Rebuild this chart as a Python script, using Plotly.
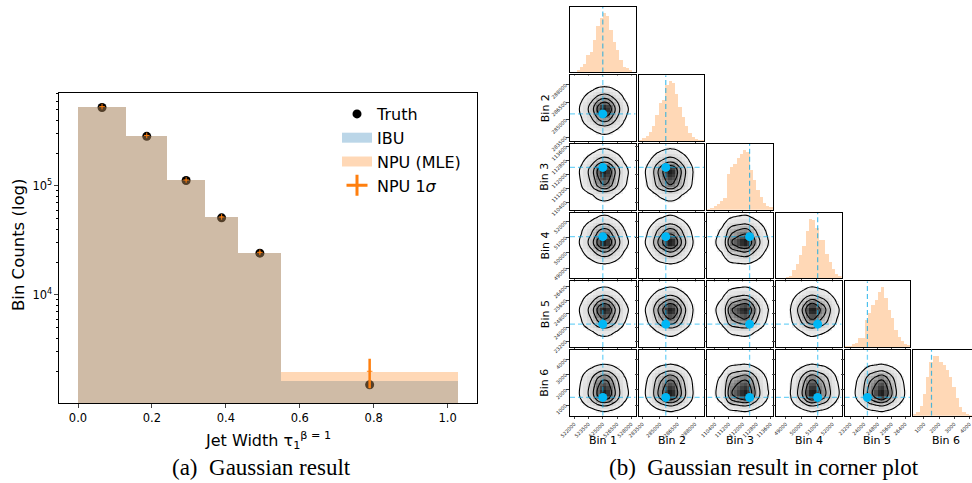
import numpy as np
import plotly.graph_objects as go

# ---------------- data : left panel ----------------
bin_edges = [0.0, 0.13, 0.242, 0.343, 0.434, 0.55, 1.028]
truth_counts = [525000, 285500, 112400, 51050, 24200, 1500]
ibu_counts = [535000, 290000, 113500, 52000, 24600, 1640]
npu_counts = [535000, 291000, 113500, 52000, 24600, 1995]
npu_sigma = [1400, 1200, 700, 450, 400, 605]
left_xticks = [0.0, 0.2, 0.4, 0.6, 0.8, 1.0]
left_yticks = [1e4, 1e5]
left_yticktext = ["10<sup>4</sup>", "10<sup>5</sup>"]

# ---------------- data : corner plot ----------------
bin_names = ["Bin 1", "Bin 2", "Bin 3", "Bin 4", "Bin 5", "Bin 6"]
corner_lo = [521540, 283180, 109960, 48370, 22870, 300]
corner_hi = [528470, 288800, 113750, 52590, 26700, 4620]
ticks_bin1 = [522000, 523500, 525000, 526500, 528000]
ticks_bin2 = [283500, 285000, 286500, 288000]
ticks_bin3 = [110400, 111200, 112000, 112800, 113600]
ticks_bin4 = [49000, 50000, 51000, 52000]
ticks_bin5 = [23200, 24000, 24800, 25600, 26400]
ticks_bin6 = [1000, 2000, 3000, 4000]
hist_bin1 = [0, 2, 5, 9, 15, 30, 35, 55, 78, 92, 100, 95, 72, 52, 38, 22, 9, 8, 5, 1]
hist_bin2 = [2, 4, 8, 15, 24, 43, 63, 68, 93, 100, 96, 79, 57, 40, 24, 13, 6, 3, 2, 1]
hist_bin3 = [1, 3, 6, 10, 14, 20, 60, 72, 77, 87, 93, 100, 96, 67, 50, 33, 22, 11, 6, 5]
hist_bin4 = [0, 1, 2, 3, 5, 15, 25, 40, 55, 80, 100, 98, 85, 64, 64, 42, 28, 16, 8, 5]
hist_bin5 = [1, 2, 4, 6, 14, 15, 45, 56, 70, 78, 92, 100, 82, 62, 48, 28, 17, 9, 5, 3]
hist_bin6 = [3, 6, 17, 37, 65, 90, 100, 100, 90, 85, 76, 65, 48, 29, 15, 6, 3, 2, 1, 0]

ticks_all = [ticks_bin1, ticks_bin2, ticks_bin3, ticks_bin4, ticks_bin5, ticks_bin6]
hists = [hist_bin1, hist_bin2, hist_bin3, hist_bin4, hist_bin5, hist_bin6]

# ---------------- style ----------------
W, H = 972, 483
FONT = "DejaVu Sans"
ORANGE = "#ff7f0e"
IBU_FILL = "rgba(31,119,180,0.3)"
NPU_FILL = "rgba(255,127,14,0.3)"
BLUE_DOT = "#00b7f5"
BLUE_LINE = "rgba(0,175,240,0.55)"
DASH = "5px,3px"


def px_x(p):
    return p / W


def px_y(p):
    return 1 - p / H


def smooth(a):
    # light 1-2-1 smoothing along both axes (like corner's smoothing of the 2D histogram)
    k = np.array([0.25, 0.5, 0.25])
    p = np.pad(a, 1, mode="edge")
    a1 = k[0] * p[:-2, 1:-1] + k[1] * p[1:-1, 1:-1] + k[2] * p[2:, 1:-1]
    p = np.pad(a1, 1, mode="edge")
    return k[0] * p[1:-1, :-2] + k[1] * p[1:-1, 1:-1] + k[2] * p[1:-1, 2:]


fig = go.Figure()
layout = {}

# ---------------- left panel ----------------
edges = np.array(bin_edges)
centers = (edges[:-1] + edges[1:]) / 2
widths = np.diff(edges)

fig.add_trace(go.Scatter(
    x=centers, y=truth_counts, mode="markers", name="Truth",
    marker=dict(color="black", size=9), xaxis="x", yaxis="y", legendrank=1))
fig.add_trace(go.Bar(
    x=centers, y=ibu_counts, width=widths, name="IBU", showlegend=False,
    marker=dict(color=IBU_FILL, line=dict(width=0)), xaxis="x", yaxis="y2"))
fig.add_trace(go.Bar(
    x=centers, y=npu_counts, width=widths, name="NPU (MLE)", showlegend=False,
    marker=dict(color=NPU_FILL, line=dict(width=0)), xaxis="x", yaxis="y2"))
fig.add_trace(go.Scatter(
    x=centers, y=npu_counts, mode="markers", showlegend=False,
    marker=dict(symbol="cross-thin", size=4, line=dict(width=1, color=ORANGE)),
    error_y=dict(type="data", array=npu_sigma, color=ORANGE, thickness=2.5, width=0),
    xaxis="x", yaxis="y2"))
# legend patches (wide rectangles like matplotlib)
fig.add_trace(go.Scatter(
    x=[None], y=[None], mode="lines", name="IBU", line=dict(color=IBU_FILL, width=12),
    xaxis="x", yaxis="y2", legendrank=2))
fig.add_trace(go.Scatter(
    x=[None], y=[None], mode="lines", name="NPU (MLE)", line=dict(color=NPU_FILL, width=12),
    xaxis="x", yaxis="y2", legendrank=3))
fig.add_trace(go.Scatter(
    x=[None], y=[None], mode="markers", name="NPU 1<i>σ</i>",
    marker=dict(symbol="cross-thin", size=15, line=dict(width=3, color=ORANGE)),
    xaxis="x", yaxis="y2", legendrank=4))

minor_vals = [m * 10 ** e for e in (3, 4, 5) for m in range(2, 10)]
ylog_range = [3.006, 5.856]
layout["xaxis"] = dict(
    domain=[px_x(59), px_x(477)], range=[-0.0514, 1.0794], anchor="y",
    tickvals=left_xticks, tickformat=".1f", ticks="outside", ticklen=3.5,
    tickfont=dict(size=11.5, color="black"), showline=True, mirror=True,
    linecolor="black", linewidth=1.1, showgrid=False, zeroline=False)
layout["yaxis"] = dict(
    domain=[px_y(403.3), px_y(92.7)], type="log", range=ylog_range, anchor="x",
    tickvals=left_yticks, ticktext=left_yticktext, ticks="outside", ticklen=3.5,
    tickfont=dict(size=11.5, color="black"), showline=True, mirror=True,
    linecolor="black", linewidth=1.1, showgrid=False, zeroline=False,
    minor=dict(tickvals=minor_vals, ticks="outside", ticklen=2, tickcolor="black"))
layout["yaxis2"] = dict(
    domain=[px_y(403.3), px_y(92.7)], type="log", range=ylog_range,
    anchor="x", overlaying="y", visible=False)

# ---------------- corner plot ----------------
COL0, ROW0, PITCH, SIZE = 570.0, 6.7, 68.65, 65.7
NB = len(hists[0])
gray_scale = [[0, "#ffffff"], [0.055, "#ffffff"], [0.065, "#eeeeee"],
              [0.3, "#d0d0d0"], [0.55, "#a2a2a2"], [0.8, "#606060"], [1, "#1e1e1e"]]

ax = 3
for i in range(6):
    for j in range(i + 1):
        x0 = COL0 + j * PITCH
        x1 = min(x0 + SIZE, W)
        frac = (x1 - x0) / SIZE
        y0 = ROW0 + i * PITCH
        y1 = y0 + SIZE
        xlo, xhi_full = corner_lo[j], corner_hi[j]
        xhi = xlo + (xhi_full - xlo) * frac
        xa, ya = f"x{ax}", f"y{ax}"
        cx = [xlo + (k + 0.5) * (xhi_full - xlo) / NB for k in range(NB)]

        if i == j:
            hmax = max(hists[i])
            fig.add_trace(go.Bar(
                x=cx, y=hists[i], width=(xhi_full - xlo) / NB,
                marker=dict(color=NPU_FILL, line=dict(width=0)),
                showlegend=False, xaxis=xa, yaxis=ya, hoverinfo="skip"))
            fig.add_trace(go.Scatter(
                x=[truth_counts[j], truth_counts[j]], y=[0, 1.1 * hmax], mode="lines",
                line=dict(color="rgba(0,165,230,0.7)", dash=DASH, width=1.2),
                showlegend=False, xaxis=xa, yaxis=ya, hoverinfo="skip"))
            yrange = [0, 1.1 * hmax]
        else:
            cy = [corner_lo[i] + (k + 0.5) * (corner_hi[i] - corner_lo[i]) / NB for k in range(NB)]
            z = np.outer(np.array(hists[i], float), np.array(hists[j], float))
            z = smooth(z)
            z = z / z.max()
            fig.add_trace(go.Heatmap(
                x=cx, y=cy, z=z, colorscale=gray_scale, zmin=0, zmax=1,
                showscale=False, showlegend=False, xaxis=xa, yaxis=ya, hoverinfo="skip"))
            fig.add_trace(go.Contour(
                x=cx, y=cy, z=z, showscale=False, showlegend=False,
                contours=dict(start=0.07, end=0.73, size=0.22, coloring="none"),
                line=dict(color="black", width=1.1, smoothing=1.3),
                xaxis=xa, yaxis=ya, hoverinfo="skip"))
            fig.add_trace(go.Scatter(
                x=[truth_counts[j], truth_counts[j]], y=[corner_lo[i], corner_hi[i]],
                mode="lines", line=dict(color=BLUE_LINE, dash=DASH, width=1.3),
                showlegend=False, xaxis=xa, yaxis=ya, hoverinfo="skip"))
            fig.add_trace(go.Scatter(
                x=[xlo, xhi_full], y=[truth_counts[i], truth_counts[i]],
                mode="lines", line=dict(color=BLUE_LINE, dash=DASH, width=1.3),
                showlegend=False, xaxis=xa, yaxis=ya, hoverinfo="skip"))
            fig.add_trace(go.Scatter(
                x=[truth_counts[j]], y=[truth_counts[i]], mode="markers",
                marker=dict(color=BLUE_DOT, size=9),
                showlegend=False, xaxis=xa, yaxis=ya, hoverinfo="skip"))
            yrange = [corner_lo[i], corner_hi[i]]

        layout[f"xaxis{ax}"] = dict(
            domain=[px_x(x0), px_x(x1)], range=[xlo, xhi], anchor=ya,
            tickvals=ticks_all[j], tickformat="d", ticks="outside", ticklen=2.5, tickwidth=0.8,
            showticklabels=(i == 5), tickangle=-45,
            tickfont=dict(size=5, color="#222"),
            showline=True, mirror=True, linecolor="black", linewidth=1.2,
            showgrid=False, zeroline=False)
        ydict = dict(
            domain=[px_y(y1), px_y(y0)], range=yrange, anchor=xa,
            showline=True, mirror=True, linecolor="black", linewidth=1.2,
            showgrid=False, zeroline=False)
        if i == j:
            ydict.update(showticklabels=False, ticks="")
        else:
            ydict.update(tickvals=ticks_all[i], tickformat="d", ticks="outside", ticklen=2.5,
                         tickwidth=0.8, showticklabels=(j == 0), tickangle=-45,
                         tickfont=dict(size=5, color="#222"))
        layout[f"yaxis{ax}"] = ydict
        ax += 1

# ---------------- text ----------------
annotations = [
    dict(text="Bin Counts (log)", x=px_x(18), y=px_y(245), textangle=-90,
         font=dict(size=16.5, color="black")),
    dict(text="Jet Width τ<sub>1</sub><sup>β = 1</sup>", x=px_x(268), y=px_y(440),
         font=dict(size=16, color="black")),
    dict(text="(a)  Gaussian result", x=px_x(261), y=px_y(467),
         font=dict(size=23, family="Liberation Serif", color="black")),
    dict(text="(b)  Gaussian result in corner plot", x=px_x(764), y=px_y(467),
         font=dict(size=23, family="Liberation Serif", color="black")),
]
for j in range(6):
    x0 = COL0 + j * PITCH
    cxp = x0 + SIZE / 2
    annotations.append(dict(text=bin_names[j], x=px_x(min(cxp, 946)), y=px_y(440),
                            font=dict(size=11, color="black")))
for i in range(1, 6):
    y0 = ROW0 + i * PITCH
    annotations.append(dict(text=bin_names[i], x=px_x(545), y=px_y(y0 + SIZE / 2),
                            textangle=-90, font=dict(size=11, color="black")))
for a in annotations:
    a.update(xref="paper", yref="paper", showarrow=False, xanchor="center", yanchor="middle")

layout.update(
    width=W, height=H, margin=dict(l=0, r=0, t=0, b=0, autoexpand=False),
    paper_bgcolor="white", plot_bgcolor="white",
    font=dict(family=FONT, color="black"),
    barmode="overlay", bargap=0, showlegend=True,
    legend=dict(x=px_x(337), y=px_y(97), xanchor="left", yanchor="top",
                bgcolor="rgba(0,0,0,0)", font=dict(size=16), traceorder="normal"),
    annotations=annotations,
)
fig.update_layout(**layout)
fig.write_html("out.html", config={"displayModeBar": False},
               post_script="document.body.style.margin='0';document.body.style.overflow='hidden';")
